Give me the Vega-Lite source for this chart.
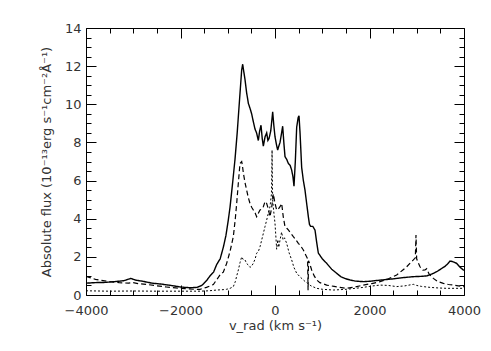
{
  "$schema": "https://vega.github.io/schema/vega-lite/v6.json",
  "width": 378,
  "height": 267,
  "autosize": {"type": "none"},
  "padding": {"left": 86, "top": 28, "right": 27, "bottom": 56},
  "background": "white",
  "config": {
    "view": {"stroke": "#000", "strokeWidth": 1},
    "axis": {
      "domain": false,
      "ticks": false,
      "grid": true,
      "gridColor": "#000",
      "gridOpacity": 1,
      "gridWidth": 1,
      "labelFont": "DejaVu Sans",
      "labelFontSize": 13,
      "labelColor": "#333",
      "titleFont": "DejaVu Sans",
      "titleFontSize": 13,
      "titleFontWeight": "normal",
      "titleColor": "#333"
    }
  },
  "datasets": {
    "spectra": [
      {"v": -4000, "f": 0.62, "s": "total"}, {"v": -3800, "f": 0.65, "s": "total"}, {"v": -3600, "f": 0.66, "s": "total"}, {"v": -3400, "f": 0.7, "s": "total"}, {"v": -3200, "f": 0.75, "s": "total"}, {"v": -3050, "f": 0.87, "s": "total"}, {"v": -2950, "f": 0.78, "s": "total"}, {"v": -2800, "f": 0.72, "s": "total"}, {"v": -2600, "f": 0.62, "s": "total"}, {"v": -2400, "f": 0.57, "s": "total"}, {"v": -2200, "f": 0.5, "s": "total"}, {"v": -2000, "f": 0.42, "s": "total"}, {"v": -1800, "f": 0.38, "s": "total"}, {"v": -1650, "f": 0.4, "s": "total"}, {"v": -1550, "f": 0.5, "s": "total"}, {"v": -1450, "f": 0.75, "s": "total"}, {"v": -1376, "f": 1.0, "s": "total"}, {"v": -1300, "f": 1.2, "s": "total"}, {"v": -1234, "f": 1.6, "s": "total"}, {"v": -1160, "f": 1.9, "s": "total"}, {"v": -1094, "f": 2.5, "s": "total"}, {"v": -1040, "f": 3.1, "s": "total"}, {"v": -990, "f": 3.9, "s": "total"}, {"v": -952, "f": 4.6, "s": "total"}, {"v": -900, "f": 5.8, "s": "total"}, {"v": -847, "f": 7.1, "s": "total"}, {"v": -800, "f": 8.5, "s": "total"}, {"v": -776, "f": 9.35, "s": "total"}, {"v": -740, "f": 10.6, "s": "total"}, {"v": -705, "f": 11.8, "s": "total"}, {"v": -684, "f": 12.1, "s": "total"}, {"v": -660, "f": 11.7, "s": "total"}, {"v": -635, "f": 11.3, "s": "total"}, {"v": -600, "f": 10.6, "s": "total"}, {"v": -564, "f": 10.05, "s": "total"}, {"v": -530, "f": 9.8, "s": "total"}, {"v": -494, "f": 9.5, "s": "total"}, {"v": -460, "f": 9.1, "s": "total"}, {"v": -423, "f": 8.7, "s": "total"}, {"v": -390, "f": 8.5, "s": "total"}, {"v": -353, "f": 8.1, "s": "total"}, {"v": -325, "f": 8.6, "s": "total"}, {"v": -296, "f": 8.9, "s": "total"}, {"v": -270, "f": 8.2, "s": "total"}, {"v": -247, "f": 7.8, "s": "total"}, {"v": -210, "f": 8.3, "s": "total"}, {"v": -176, "f": 8.5, "s": "total"}, {"v": -150, "f": 8.1, "s": "total"}, {"v": -127, "f": 8.2, "s": "total"}, {"v": -90, "f": 8.6, "s": "total"}, {"v": -49, "f": 9.6, "s": "total"}, {"v": -25, "f": 8.9, "s": "total"}, {"v": 0, "f": 8.3, "s": "total"}, {"v": 30, "f": 7.9, "s": "total"}, {"v": 56, "f": 7.6, "s": "total"}, {"v": 80, "f": 7.8, "s": "total"}, {"v": 106, "f": 8.0, "s": "total"}, {"v": 140, "f": 8.5, "s": "total"}, {"v": 162, "f": 8.85, "s": "total"}, {"v": 190, "f": 7.9, "s": "total"}, {"v": 212, "f": 7.25, "s": "total"}, {"v": 250, "f": 7.1, "s": "total"}, {"v": 282, "f": 6.9, "s": "total"}, {"v": 320, "f": 6.8, "s": "total"}, {"v": 353, "f": 6.55, "s": "total"}, {"v": 380, "f": 6.2, "s": "total"}, {"v": 402, "f": 5.7, "s": "total"}, {"v": 430, "f": 7.0, "s": "total"}, {"v": 459, "f": 8.8, "s": "total"}, {"v": 490, "f": 9.3, "s": "total"}, {"v": 508, "f": 9.4, "s": "total"}, {"v": 530, "f": 8.5, "s": "total"}, {"v": 564, "f": 6.7, "s": "total"}, {"v": 600, "f": 6.0, "s": "total"}, {"v": 635, "f": 5.5, "s": "total"}, {"v": 670, "f": 4.8, "s": "total"}, {"v": 706, "f": 4.1, "s": "total"}, {"v": 730, "f": 3.7, "s": "total"}, {"v": 755, "f": 3.6, "s": "total"}, {"v": 800, "f": 3.6, "s": "total"}, {"v": 847, "f": 3.4, "s": "total"}, {"v": 880, "f": 2.8, "s": "total"}, {"v": 917, "f": 2.2, "s": "total"}, {"v": 1000, "f": 1.9, "s": "total"}, {"v": 1094, "f": 1.66, "s": "total"}, {"v": 1200, "f": 1.35, "s": "total"}, {"v": 1305, "f": 1.14, "s": "total"}, {"v": 1400, "f": 0.95, "s": "total"}, {"v": 1500, "f": 0.85, "s": "total"}, {"v": 1600, "f": 0.78, "s": "total"}, {"v": 1700, "f": 0.73, "s": "total"}, {"v": 1869, "f": 0.7, "s": "total"}, {"v": 2000, "f": 0.72, "s": "total"}, {"v": 2222, "f": 0.78, "s": "total"}, {"v": 2400, "f": 0.82, "s": "total"}, {"v": 2575, "f": 0.87, "s": "total"}, {"v": 2750, "f": 0.92, "s": "total"}, {"v": 2928, "f": 0.96, "s": "total"}, {"v": 3100, "f": 0.98, "s": "total"}, {"v": 3210, "f": 1.0, "s": "total"}, {"v": 3320, "f": 1.1, "s": "total"}, {"v": 3422, "f": 1.22, "s": "total"}, {"v": 3520, "f": 1.38, "s": "total"}, {"v": 3598, "f": 1.5, "s": "total"}, {"v": 3660, "f": 1.65, "s": "total"}, {"v": 3704, "f": 1.78, "s": "total"}, {"v": 3760, "f": 1.75, "s": "total"}, {"v": 3845, "f": 1.66, "s": "total"}, {"v": 3920, "f": 1.45, "s": "total"}, {"v": 3986, "f": 1.31, "s": "total"}, {"v": 4000, "f": 1.3, "s": "total"},

      {"v": -4000, "f": 0.98, "s": "broad"}, {"v": -3900, "f": 0.9, "s": "broad"}, {"v": -3800, "f": 0.82, "s": "broad"}, {"v": -3700, "f": 0.78, "s": "broad"}, {"v": -3500, "f": 0.7, "s": "broad"}, {"v": -3300, "f": 0.65, "s": "broad"}, {"v": -3100, "f": 0.62, "s": "broad"}, {"v": -3000, "f": 0.65, "s": "broad"}, {"v": -2900, "f": 0.6, "s": "broad"}, {"v": -2700, "f": 0.55, "s": "broad"}, {"v": -2500, "f": 0.48, "s": "broad"}, {"v": -2300, "f": 0.42, "s": "broad"}, {"v": -2100, "f": 0.37, "s": "broad"}, {"v": -1900, "f": 0.33, "s": "broad"}, {"v": -1700, "f": 0.3, "s": "broad"}, {"v": -1587, "f": 0.3, "s": "broad"}, {"v": -1450, "f": 0.4, "s": "broad"}, {"v": -1305, "f": 0.55, "s": "broad"}, {"v": -1234, "f": 0.8, "s": "broad"}, {"v": -1150, "f": 1.1, "s": "broad"}, {"v": -1094, "f": 1.2, "s": "broad"}, {"v": -1023, "f": 1.66, "s": "broad"}, {"v": -950, "f": 2.3, "s": "broad"}, {"v": -882, "f": 3.06, "s": "broad"}, {"v": -840, "f": 4.0, "s": "broad"}, {"v": -811, "f": 4.8, "s": "broad"}, {"v": -775, "f": 5.9, "s": "broad"}, {"v": -741, "f": 6.9, "s": "broad"}, {"v": -705, "f": 7.0, "s": "broad"}, {"v": -690, "f": 6.8, "s": "broad"}, {"v": -670, "f": 6.4, "s": "broad"}, {"v": -635, "f": 5.9, "s": "broad"}, {"v": -600, "f": 5.5, "s": "broad"}, {"v": -564, "f": 5.1, "s": "broad"}, {"v": -529, "f": 4.8, "s": "broad"}, {"v": -494, "f": 4.6, "s": "broad"}, {"v": -459, "f": 4.46, "s": "broad"}, {"v": -420, "f": 4.3, "s": "broad"}, {"v": -388, "f": 4.1, "s": "broad"}, {"v": -350, "f": 4.3, "s": "broad"}, {"v": -317, "f": 4.46, "s": "broad"}, {"v": -280, "f": 4.5, "s": "broad"}, {"v": -247, "f": 4.63, "s": "broad"}, {"v": -210, "f": 4.9, "s": "broad"}, {"v": -176, "f": 4.8, "s": "broad"}, {"v": -140, "f": 4.5, "s": "broad"}, {"v": -106, "f": 4.1, "s": "broad"}, {"v": -70, "f": 4.6, "s": "broad"}, {"v": -35, "f": 5.3, "s": "broad"}, {"v": 0, "f": 4.8, "s": "broad"}, {"v": 35, "f": 4.46, "s": "broad"}, {"v": 70, "f": 4.5, "s": "broad"}, {"v": 106, "f": 4.63, "s": "broad"}, {"v": 141, "f": 4.8, "s": "broad"}, {"v": 175, "f": 4.1, "s": "broad"}, {"v": 212, "f": 3.58, "s": "broad"}, {"v": 250, "f": 3.5, "s": "broad"}, {"v": 282, "f": 3.41, "s": "broad"}, {"v": 330, "f": 3.25, "s": "broad"}, {"v": 388, "f": 3.06, "s": "broad"}, {"v": 440, "f": 2.9, "s": "broad"}, {"v": 494, "f": 2.71, "s": "broad"}, {"v": 550, "f": 2.55, "s": "broad"}, {"v": 600, "f": 2.36, "s": "broad"}, {"v": 650, "f": 2.1, "s": "broad"}, {"v": 690, "f": 1.9, "s": "broad"}, {"v": 700, "f": 0.25, "s": "broad"}, {"v": 710, "f": 1.8, "s": "broad"}, {"v": 740, "f": 1.6, "s": "broad"}, {"v": 776, "f": 1.31, "s": "broad"}, {"v": 830, "f": 1.0, "s": "broad"}, {"v": 882, "f": 0.79, "s": "broad"}, {"v": 950, "f": 0.65, "s": "broad"}, {"v": 1094, "f": 0.52, "s": "broad"}, {"v": 1250, "f": 0.45, "s": "broad"}, {"v": 1376, "f": 0.4, "s": "broad"}, {"v": 1517, "f": 0.35, "s": "broad"}, {"v": 1700, "f": 0.42, "s": "broad"}, {"v": 1869, "f": 0.52, "s": "broad"}, {"v": 2050, "f": 0.6, "s": "broad"}, {"v": 2222, "f": 0.7, "s": "broad"}, {"v": 2400, "f": 0.85, "s": "broad"}, {"v": 2575, "f": 1.05, "s": "broad"}, {"v": 2700, "f": 1.3, "s": "broad"}, {"v": 2787, "f": 1.48, "s": "broad"}, {"v": 2870, "f": 1.7, "s": "broad"}, {"v": 2928, "f": 1.84, "s": "broad"}, {"v": 2970, "f": 1.95, "s": "broad"}, {"v": 2984, "f": 3.15, "s": "broad"}, {"v": 2998, "f": 1.9, "s": "broad"}, {"v": 3030, "f": 1.7, "s": "broad"}, {"v": 3069, "f": 1.48, "s": "broad"}, {"v": 3130, "f": 1.3, "s": "broad"}, {"v": 3175, "f": 1.31, "s": "broad"}, {"v": 3210, "f": 1.38, "s": "broad"}, {"v": 3260, "f": 1.1, "s": "broad"}, {"v": 3351, "f": 0.87, "s": "broad"}, {"v": 3450, "f": 0.7, "s": "broad"}, {"v": 3563, "f": 0.61, "s": "broad"}, {"v": 3670, "f": 0.55, "s": "broad"}, {"v": 3774, "f": 0.52, "s": "broad"}, {"v": 3880, "f": 0.48, "s": "broad"}, {"v": 3986, "f": 0.44, "s": "broad"}, {"v": 4000, "f": 0.44, "s": "broad"},

      {"v": -4000, "f": 0.22, "s": "narrow"}, {"v": -3500, "f": 0.2, "s": "narrow"}, {"v": -3000, "f": 0.21, "s": "narrow"}, {"v": -2500, "f": 0.2, "s": "narrow"}, {"v": -2000, "f": 0.2, "s": "narrow"}, {"v": -1700, "f": 0.2, "s": "narrow"}, {"v": -1587, "f": 0.2, "s": "narrow"}, {"v": -1400, "f": 0.22, "s": "narrow"}, {"v": -1234, "f": 0.26, "s": "narrow"}, {"v": -1100, "f": 0.28, "s": "narrow"}, {"v": -1023, "f": 0.3, "s": "narrow"}, {"v": -950, "f": 0.35, "s": "narrow"}, {"v": -882, "f": 0.44, "s": "narrow"}, {"v": -840, "f": 0.7, "s": "narrow"}, {"v": -810, "f": 1.0, "s": "narrow"}, {"v": -776, "f": 1.31, "s": "narrow"}, {"v": -740, "f": 1.7, "s": "narrow"}, {"v": -705, "f": 2.0, "s": "narrow"}, {"v": -670, "f": 1.85, "s": "narrow"}, {"v": -635, "f": 1.84, "s": "narrow"}, {"v": -600, "f": 1.65, "s": "narrow"}, {"v": -564, "f": 1.57, "s": "narrow"}, {"v": -530, "f": 1.45, "s": "narrow"}, {"v": -500, "f": 1.5, "s": "narrow"}, {"v": -459, "f": 1.66, "s": "narrow"}, {"v": -420, "f": 1.9, "s": "narrow"}, {"v": -388, "f": 2.19, "s": "narrow"}, {"v": -350, "f": 2.3, "s": "narrow"}, {"v": -317, "f": 2.53, "s": "narrow"}, {"v": -280, "f": 2.9, "s": "narrow"}, {"v": -247, "f": 3.23, "s": "narrow"}, {"v": -210, "f": 3.6, "s": "narrow"}, {"v": -176, "f": 3.93, "s": "narrow"}, {"v": -140, "f": 4.3, "s": "narrow"}, {"v": -106, "f": 4.63, "s": "narrow"}, {"v": -75, "f": 5.3, "s": "narrow"}, {"v": -62, "f": 7.6, "s": "narrow"}, {"v": -50, "f": 5.0, "s": "narrow"}, {"v": -20, "f": 4.2, "s": "narrow"}, {"v": 0, "f": 3.76, "s": "narrow"}, {"v": 20, "f": 3.0, "s": "narrow"}, {"v": 35, "f": 2.4, "s": "narrow"}, {"v": 60, "f": 2.9, "s": "narrow"}, {"v": 80, "f": 2.5, "s": "narrow"}, {"v": 106, "f": 2.88, "s": "narrow"}, {"v": 140, "f": 3.3, "s": "narrow"}, {"v": 170, "f": 2.9, "s": "narrow"}, {"v": 200, "f": 3.0, "s": "narrow"}, {"v": 247, "f": 2.71, "s": "narrow"}, {"v": 300, "f": 2.2, "s": "narrow"}, {"v": 353, "f": 1.84, "s": "narrow"}, {"v": 400, "f": 1.45, "s": "narrow"}, {"v": 459, "f": 1.14, "s": "narrow"}, {"v": 530, "f": 0.95, "s": "narrow"}, {"v": 600, "f": 0.79, "s": "narrow"}, {"v": 650, "f": 0.68, "s": "narrow"}, {"v": 700, "f": 0.6, "s": "narrow"}, {"v": 760, "f": 0.48, "s": "narrow"}, {"v": 882, "f": 0.35, "s": "narrow"}, {"v": 1000, "f": 0.3, "s": "narrow"}, {"v": 1234, "f": 0.26, "s": "narrow"}, {"v": 1517, "f": 0.3, "s": "narrow"}, {"v": 1700, "f": 0.35, "s": "narrow"}, {"v": 1869, "f": 0.4, "s": "narrow"}, {"v": 2050, "f": 0.47, "s": "narrow"}, {"v": 2222, "f": 0.52, "s": "narrow"}, {"v": 2400, "f": 0.5, "s": "narrow"}, {"v": 2575, "f": 0.44, "s": "narrow"}, {"v": 2750, "f": 0.48, "s": "narrow"}, {"v": 2928, "f": 0.56, "s": "narrow"}, {"v": 3000, "f": 0.5, "s": "narrow"}, {"v": 3100, "f": 0.45, "s": "narrow"}, {"v": 3280, "f": 0.4, "s": "narrow"}, {"v": 3450, "f": 0.37, "s": "narrow"}, {"v": 3633, "f": 0.35, "s": "narrow"}, {"v": 3800, "f": 0.35, "s": "narrow"}, {"v": 3986, "f": 0.35, "s": "narrow"}, {"v": 4000, "f": 0.35, "s": "narrow"}
    ]
  },
  "data": {"name": "spectra"},
  "mark": {"type": "line", "color": "#000", "clip": true},
  "encoding": {
    "x": {
      "field": "v", "type": "quantitative",
      "scale": {"domain": [-4000, 4000], "nice": false},
      "axis": {
        "orient": "bottom",
        "values": [-4000, -3500, -3000, -2500, -2000, -1500, -1000, -500, 0, 500, 1000, 1500, 2000, 2500, 3000, 3500, 4000],
        "labelExpr": "datum.value % 2000 === 0 ? format(datum.value, 'd') : ''",
        "gridDash": {"condition": {"test": "datum.value % 2000 === 0", "value": [10, 247, 60, 0]}, "value": [5, 257, 60, 0]},
        "labelPadding": 9,
        "labelFlush": false,
        "title": "v_rad (km s⁻¹)",
        "titlePadding": 2
      }
    },
    "y": {
      "field": "f", "type": "quantitative",
      "scale": {"domain": [0, 14], "nice": false},
      "axis": {
        "orient": "left",
        "values": [0, 0.5, 1, 1.5, 2, 2.5, 3, 3.5, 4, 4.5, 5, 5.5, 6, 6.5, 7, 7.5, 8, 8.5, 9, 9.5, 10, 10.5, 11, 11.5, 12, 12.5, 13, 13.5, 14],
        "labelExpr": "datum.value % 2 === 0 ? format(datum.value, 'd') : ''",
        "gridDash": {"condition": {"test": "datum.value % 2 === 0", "value": [10, 358, 60, 0]}, "value": [5, 368, 60, 0]},
        "labelPadding": 5,
        "labelFlush": false,
        "title": "Absolute flux (10⁻¹³erg s⁻¹cm⁻²Å⁻¹)",
        "titlePadding": 11
      }
    },
    "detail": {"field": "s"},
    "strokeDash": {
      "field": "s", "type": "nominal",
      "scale": {"domain": ["total", "broad", "narrow"], "range": [[1, 0], [5, 3], [2, 2]]},
      "legend": null
    },
    "strokeWidth": {
      "field": "s", "type": "ordinal",
      "scale": {"domain": ["total", "broad", "narrow"], "range": [1.4, 1, 1]},
      "legend": null
    }
  }
}
